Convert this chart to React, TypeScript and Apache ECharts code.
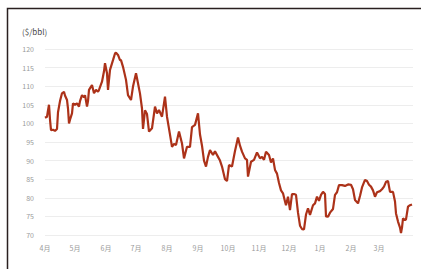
import React, { useEffect, useRef } from "react";
import * as echarts from "echarts";

const unitLabel = "($/bbl)";
const monthStarts = [0, 30, 61, 91, 122, 153, 183, 214, 244, 275, 306, 334];
const monthLabels = ["4月", "5月", "6月", "7月", "8月", "9月", "10月", "11月", "12月", "1月", "2月", "3月"];
const yTicks = [70, 75, 80, 85, 90, 95, 100, 105, 110, 115, 120];

const days = [
  0, 2, 3, 4, 5, 6, 8, 10, 12, 13, 15, 17, 19, 20, 22, 23, 24, 25, 27, 28,
  30, 32, 34, 35, 37, 39, 40, 42, 43, 44, 47, 49, 51, 53, 54, 57, 59, 60, 62, 63,
  65, 68, 70, 71, 73, 75, 76, 78, 81, 83, 86, 88, 91, 93, 95, 97, 98, 100, 102, 104,
  107, 110, 112, 114, 117, 120, 122, 125, 127, 129, 131, 134, 137, 139, 142, 145, 147, 150, 153, 155,
  157, 159, 161, 163, 165, 168, 170, 173, 175, 177, 180, 182, 184, 187, 190, 193, 195, 197, 200, 202,
  203, 206, 209, 212, 215, 217, 219, 221, 224, 226, 228, 230, 232, 234, 236, 238, 240, 241, 243, 245,
  247, 249, 251, 253, 255, 257, 259, 261, 263, 265, 268, 270, 272, 274, 276, 278, 280, 281, 283, 285,
  288, 290, 292, 294, 297, 300, 303, 306, 308, 310, 313, 315, 317, 320, 322, 324, 326, 328, 330, 332,
  335, 337, 339, 341, 343, 345, 348, 350, 351, 353, 355, 356, 357, 358, 360, 361, 363, 365, 367,
];

const prices = [
  101.5, 101.8, 103.5, 105, 101, 98.2, 98.3, 98, 98.5, 103, 106, 108.1, 108.5, 107.5, 106.3, 104, 100, 101, 102.7, 105.4,
  105, 105.4, 104.5, 106, 107.6, 107, 107.6, 104.5, 106, 109, 110.3, 108.1, 109, 108.5, 109, 111.2, 114, 116.2, 113.5, 109,
  114.4, 117, 118.8, 119, 118.4, 117, 117, 115.2, 111.7, 107.6, 106.3, 109.9, 113.5, 110.8, 108, 104, 98.5, 103.5, 102.5, 97.8,
  98.7, 104.5, 102.7, 103.6, 101.8, 107.2, 101.8, 97, 93.7, 94.5, 94.2, 97.8, 94.6, 90.6, 93.7, 93.7, 99, 99.6, 102.7, 97,
  94, 90, 88.4, 91, 92.8, 91.5, 92.5, 91, 90, 88.4, 85, 84.5, 88.8, 88.4, 92.6, 96.2, 94, 92.4, 90.6, 90.2,
  85.7, 89.7, 90.2, 92.2, 90.6, 91, 90.2, 92.4, 91.5, 89.5, 90.6, 87.5, 86.5, 84, 82, 81.2, 79, 78, 80.3, 76.7,
  81, 81, 80.8, 76, 72.5, 71.6, 71.5, 75.5, 77.2, 75.4, 78, 78.5, 80.3, 79.2, 80.8, 81.6, 81, 75, 74.9, 76,
  77, 80.8, 81.5, 83.4, 83.4, 83.2, 83.6, 83.5, 82.3, 79.4, 78.5, 80.5, 82.8, 84.8, 84.5, 83.5, 83, 82, 80.3, 81.5,
  81.8, 82.3, 83, 84.3, 84.5, 81.6, 81.6, 79, 75.8, 73.6, 72, 70.5, 72, 74.5, 74, 74.2, 77.6, 78, 78.2,
];

export default function App() {
  const ref = useRef<HTMLDivElement>(null);
  useEffect(() => {
    if (!ref.current) return;
    const chart = echarts.init(ref.current, undefined, { renderer: "svg" });
    const font = "'Noto Sans CJK JP', 'Noto Sans', sans-serif";
    chart.setOption({
      animation: false,
      backgroundColor: "#ffffff",
      grid: { left: 45, right: 8, top: 49, bottom: 34 },
      graphic: [
        {
          type: "polyline",
          shape: { points: [[7.5, 269], [7.5, 8.5], [421, 8.5]] },
          style: { stroke: "#2a2020", lineWidth: 1.5, fill: "none" },
          silent: true,
        },
        {
          type: "text",
          left: 22,
          top: 27,
          style: { text: unitLabel, fontSize: 8, fill: "#4a4a4a", fontFamily: font },
        },
      ],
      xAxis: {
        type: "value",
        min: 0,
        max: 368,
        axisLine: { show: false },
        axisTick: { show: false },
        splitLine: { show: false },
        axisLabel: {
          customValues: monthStarts,
          formatter: (v: number) => {
            const i = monthStarts.indexOf(v);
            return i >= 0 ? monthLabels[i] : "";
          },
          fontSize: 7,
          color: "#9a9a9a",
          margin: 9,
          fontFamily: font,
        },
      },
      yAxis: {
        type: "value",
        min: yTicks[0],
        max: yTicks[yTicks.length - 1],
        interval: 5,
        axisLine: { show: false },
        axisTick: { show: false },
        splitLine: { lineStyle: { color: "#ededed", width: 1 } },
        axisLabel: { fontSize: 7, color: "#9a9a9a", margin: 11, fontFamily: font },
      },
      series: [
        {
          type: "line",
          data: days.map((d, i) => [d, prices[i]]),
          showSymbol: false,
          lineStyle: { color: "#ac3219", width: 2.2 },
          itemStyle: { color: "#ac3219" },
        },
      ],
    });
    return () => chart.dispose();
  }, []);
  return (
    <div
      ref={ref}
      style={{ position: "fixed", left: 0, top: 0, width: 421, height: 269 }}
    />
  );
}
